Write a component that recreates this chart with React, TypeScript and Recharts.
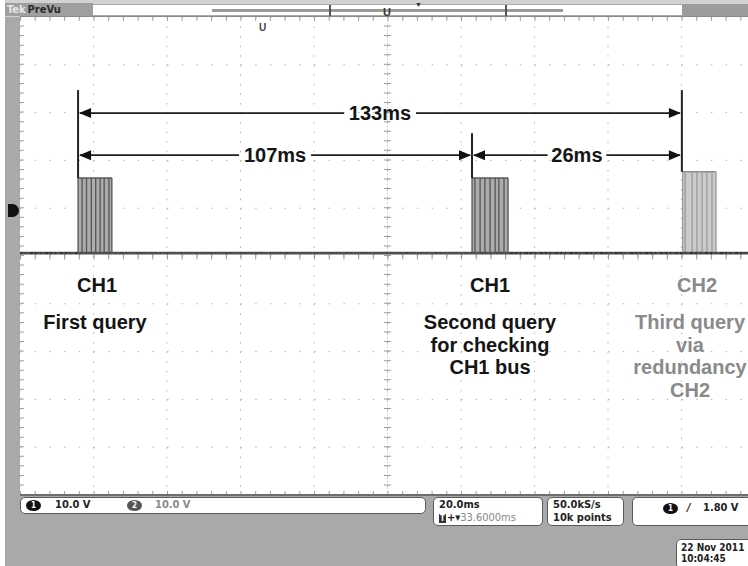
import React from "react";
import {
  ComposedChart,
  Line,
  Area,
  XAxis,
  YAxis,
  CartesianGrid,
  ReferenceLine,
} from "recharts";

// ── Scope capture: 20 ms/div x 10 div, 10 V/div x 10 div ─────────────
//
// The screen grid is drawn by Recharts (time in ms on x, volts on y).
// Bursts are drawn as stripe traces (each stripe = up/down edge) on top
// of a filled envelope, the way the DPO smears a dense CAN frame.

const timeTicks = [0, 20, 40, 60, 80, 100, 120, 140, 160, 180, 200];
const voltTicks = [-50, -40, -30, -20, -10, 0, 10, 20, 30, 40, 50];

const groundLevel = 0.6; // V, trace sits just above the centre line

// stripe positions (ms)
const burst1Stripes = [15.8, 16.9, 18.1, 19.4, 20.6, 21.8, 22.9, 24.2, 25.0];
const burst2Stripes = [123.0, 123.8, 125.2, 126.5, 127.9, 129.3, 130.3, 131.7, 132.8];
const burst3Stripes = [180.3, 181.0, 182.9, 184.2, 185.6, 186.9, 188.3, 189.4];
const burstHigh = [16.3, 16.3, 17.6]; // V

// query markers (ms) and the top of each marker line (V)
const queryTimes = [15.8, 123.0, 180.1];
const markerTops = [34.7, 25.7, 34.7];

// measurement arrows: [from marker, to marker], level in V
const arrowLabels = ["133ms", "107ms", "26ms"];
const arrowFrom = [0, 0, 1];
const arrowTo = [2, 1, 2];
const arrowLevel = [29.9, 21.1, 21.1];

// text under the bursts
const channelTags = ["CH1", "CH1", "CH2"];
const queryNotes = [
  ["First query"],
  ["Second query", "for checking", "CH1 bus"],
  ["Third query", "via", "redundancy", "CH2"],
];

const PLOT = { left: 20, top: 17, width: 735, height: 478 };
const SANS = "'Liberation Sans', Arial, sans-serif";
const STATUS = "'Liberation Sans Narrow', 'DejaVu Sans Condensed', 'Liberation Sans', sans-serif";

type Pt = { t: number; v: number };

function stripeTrace(stripes: number[], high: number): Pt[] {
  const out: Pt[] = [];
  for (const t of stripes) {
    out.push({ t, v: groundLevel }, { t, v: high }, { t, v: groundLevel });
  }
  return out;
}

function envelope(stripes: number[], high: number): Pt[] {
  return [
    { t: stripes[0], v: high },
    { t: stripes[stripes.length - 1], v: high },
  ];
}

const groundTrace: Pt[] = [
  { t: timeTicks[0], v: groundLevel },
  { t: timeTicks[timeTicks.length - 1], v: groundLevel },
];
const ch1Stripes = [
  ...stripeTrace(burst1Stripes, burstHigh[0]),
  ...stripeTrace(burst2Stripes, burstHigh[1]),
];
const ch2Stripes = stripeTrace(burst3Stripes, burstHigh[2]);

// arrow with heads at both ends and the label cut into the line
function makeArrow(label: string) {
  return (p: any) => {
    const x1 = Math.min(p.x1, p.x2);
    const x2 = Math.max(p.x1, p.x2);
    const y = p.y1;
    const mid = (x1 + x2) / 2;
    const gap = label.length * 6.6 + 3;
    const head = 12;
    const hw = 5;
    return (
      <g>
        <line x1={x1 + 2} y1={y} x2={mid - gap} y2={y} stroke="#1e1e1e" strokeWidth={1.8} />
        <line x1={mid + gap} y1={y} x2={x2 - 2} y2={y} stroke="#1e1e1e" strokeWidth={1.8} />
        <polygon points={`${x1 + 1},${y} ${x1 + 1 + head},${y - hw} ${x1 + 1 + head},${y + hw}`} fill="#111" />
        <polygon points={`${x2 - 1},${y} ${x2 - 1 - head},${y - hw} ${x2 - 1 - head},${y + hw}`} fill="#111" />
        <text
          x={mid}
          y={y}
          dy="0.36em"
          textAnchor="middle"
          fontFamily={SANS}
          fontWeight="bold"
          fontSize={20}
          fill="#151515"
        >
          {label}
        </text>
      </g>
    );
  };
}

function Screen() {
  return (
    <ComposedChart
      width={PLOT.width}
      height={PLOT.height}
      margin={{ top: 0, right: 0, bottom: 0, left: 0 }}
    >
      <XAxis type="number" dataKey="t" domain={[0, 200]} ticks={timeTicks} hide allowDuplicatedCategory={false} />
      <YAxis type="number" dataKey="v" domain={[-50, 50]} ticks={voltTicks} hide />

      <CartesianGrid horizontal vertical={false} stroke="#b3b3b3" strokeDasharray="1.5 13.2" />
      <CartesianGrid horizontal={false} vertical stroke="#b3b3b3" strokeDasharray="1.5 8.06" />

      {/* centre cross with minor ticks, and minor ticks along the border */}
      <ReferenceLine x={100} stroke="#b8b8b8" strokeDasharray="1 2.2" />
      <ReferenceLine x={100} stroke="#9a9a9a" strokeWidth={7} strokeDasharray="1 8.56" />
      <ReferenceLine y={0} stroke="#9a9a9a" strokeWidth={7} strokeDasharray="1 13.7" />
      <ReferenceLine x={0} stroke="#a0a0a0" strokeWidth={8} strokeDasharray="1 8.56" />
      <ReferenceLine y={50} stroke="#a0a0a0" strokeWidth={8} strokeDasharray="1 13.7" />
      <ReferenceLine y={-50} stroke="#a0a0a0" strokeWidth={8} strokeDasharray="1 13.7" />

      {/* burst envelopes */}
      <Area
        data={envelope(burst1Stripes, burstHigh[0])}
        dataKey="v"
        type="linear"
        baseValue={groundLevel}
        fill="#acacac"
        fillOpacity={1}
        stroke="#5a5a5a"
        strokeWidth={1.5}
        isAnimationActive={false}
      />
      <Area
        data={envelope(burst2Stripes, burstHigh[1])}
        dataKey="v"
        type="linear"
        baseValue={groundLevel}
        fill="#acacac"
        fillOpacity={1}
        stroke="#5a5a5a"
        strokeWidth={1.5}
        isAnimationActive={false}
      />
      <Area
        data={envelope(burst3Stripes, burstHigh[2])}
        dataKey="v"
        type="linear"
        baseValue={groundLevel}
        fill="#cbcbcb"
        fillOpacity={1}
        stroke="#8e8e8e"
        strokeWidth={1.5}
        isAnimationActive={false}
      />

      {/* CH2 stripes, then CH1 ground + stripes on top */}
      <Line data={ch2Stripes} dataKey="v" type="linear" stroke="#9b9b9b" strokeWidth={1.3} dot={false} isAnimationActive={false} />
      <Line data={groundTrace} dataKey="v" type="linear" stroke="#4e4e4e" strokeWidth={2.8} dot={false} isAnimationActive={false} />
      <Line data={groundTrace} dataKey="v" type="linear" stroke="#222" strokeWidth={1.2} strokeDasharray="2 3 1 4 3 2" dot={false} isAnimationActive={false} />
      <Line data={ch1Stripes} dataKey="v" type="linear" stroke="#555" strokeWidth={1.3} dot={false} isAnimationActive={false} />

      {/* query markers */}
      {queryTimes.map((t, i) => (
        <ReferenceLine
          key={"m" + i}
          segment={[
            { x: t, y: markerTops[i] },
            { x: t, y: burstHigh[i] },
          ]}
          stroke="#222"
          strokeWidth={2}
          ifOverflow="visible"
        />
      ))}

      {/* measurement arrows */}
      {arrowLabels.map((label, i) => (
        <ReferenceLine
          key={"a" + i}
          segment={[
            { x: queryTimes[arrowFrom[i]], y: arrowLevel[i] },
            { x: queryTimes[arrowTo[i]], y: arrowLevel[i] },
          ]}
          ifOverflow="visible"
          shape={makeArrow(label)}
        />
      ))}
    </ComposedChart>
  );
}

const abs = (s: React.CSSProperties): React.CSSProperties => ({ position: "absolute", ...s });

function StatusBox({ left, top, width, height, fontSize = 11, children }: any) {
  return (
    <div
      style={abs({
        left,
        top,
        width,
        height,
        background: "#fff",
        border: "1.5px solid #5a5a5a",
        borderRadius: 5,
        boxSizing: "border-box",
        fontFamily: STATUS,
        fontSize,
        fontWeight: 700,
        color: "#222",
        lineHeight: "12px",
        overflow: "hidden",
      })}
    >
      {children}
    </div>
  );
}

function ChanBadge({ left, top, n, bg }: { left: number; top: number; n: string; bg: string }) {
  return (
    <div
      style={abs({
        left,
        top,
        width: 15,
        height: 11,
        borderRadius: "50%",
        background: bg,
        color: "#fff",
        fontSize: 8,
        lineHeight: "11px",
        textAlign: "center",
        fontFamily: STATUS,
      })}
    >
      {n}
    </div>
  );
}

export default function App() {
  const noteCx = [95, 490, 690];
  const noteStyle = (i: number): React.CSSProperties => ({
    transform: "translate(-50%, -50%)",
    fontFamily: SANS,
    fontWeight: 700,
    fontSize: 20,
    color: i === 2 ? "#8a8a8a" : "#151515",
    whiteSpace: "nowrap",
  });
  return (
    <div
      style={abs({
        left: 0,
        top: 0,
        width: 748,
        height: 566,
        overflow: "hidden",
        background: "#fff",
      })}
    >
      {/* bezel */}
      <div style={abs({ left: 5, top: 0, width: 743, height: 566, background: "#a9a9a9" })} />
      <div style={abs({ left: 5, top: 0, width: 743, height: 17, background: "#d2d2d2" })} />

      {/* top record bar */}
      <div style={abs({ left: 5, top: 3, width: 88, height: 13, background: "#9f9f9f", fontFamily: STATUS, fontSize: 11, fontWeight: 700, lineHeight: "13px" })}>
        <span style={{ color: "#e8e8e8", marginLeft: 2 }}>Tek</span>
        <span style={{ color: "#2a2a2a", marginLeft: 2 }}>PreVu</span>
      </div>
      <div style={abs({ left: 93, top: 4, width: 589, height: 12, background: "#fff", borderTop: "1px solid #aaa", borderBottom: "1px solid #aaa", boxSizing: "border-box" })} />
      <div style={abs({ left: 212, top: 9, width: 351, height: 3, background: "#9a9a9a" })} />
      <div style={abs({ left: 329, top: 5, width: 2, height: 11, background: "#555" })} />
      <div style={abs({ left: 505, top: 5, width: 2, height: 11, background: "#555" })} />
      <div style={abs({ left: 415, top: 1, fontSize: 7, color: "#333", fontFamily: SANS })}>▼</div>
      <div style={abs({ left: 682, top: 4, width: 66, height: 12, background: "#9c9c9c" })} />

      {/* graticule */}
      <div style={abs({ left: PLOT.left, top: PLOT.top, width: PLOT.width, height: PLOT.height, background: "#fff" })}>
        <Screen />
      </div>
      <div style={abs({ left: 20, top: 16, width: 728, height: 1, background: "#8a8a8a" })} />
      <div style={abs({ left: 20, top: 494, width: 728, height: 2, background: "#6e6e6e" })} />

      {/* trigger markers */}
      <div style={abs({ left: 383, top: 6, fontFamily: SANS, fontWeight: 900, fontSize: 11, color: "#333" })}>U</div>
      <div style={abs({ left: 259, top: 22, fontFamily: SANS, fontWeight: 900, fontSize: 10, color: "#444" })}>U</div>

      {/* ch1 ground marker */}
      <div style={abs({ left: 8, top: 204, width: 11, height: 13, background: "#111", borderRadius: "0 7px 7px 0" })} />

      {/* query annotations */}
      {channelTags.map((tag, i) => (
        <div key={"tag" + i} style={abs({ left: [97, 490, 697][i], top: 285, ...noteStyle(i) })}>
          {tag}
        </div>
      ))}
      {queryNotes.map((lines, i) =>
        lines.map((line, j) => (
          <div key={"n" + i + "-" + j} style={abs({ left: noteCx[i], top: 322 + j * 22.6, ...noteStyle(i) })}>
            {line}
          </div>
        ))
      )}

      {/* status read-outs */}
      <StatusBox left={20} top={497} width={406} height={17}>
        <ChanBadge left={5} top={1.5} n="1" bg="#111" />
        <div style={abs({ left: 34, top: 1 })}>10.0 V</div>
        <ChanBadge left={106} top={1.5} n="2" bg="#555" />
        <div style={abs({ left: 134, top: 1, color: "#8a8a8a" })}>10.0 V</div>
      </StatusBox>
      <StatusBox left={433} top={497} width={110} height={29}>
        <div style={abs({ left: 5, top: 1 })}>20.0ms</div>
        <div style={abs({ left: 5, top: 14 })}>
          <span style={{ display: "inline-block", background: "#333", color: "#fff", fontSize: 8, lineHeight: "9px", padding: "0 1px", marginRight: 1 }}>T</span>
          +▾<span style={{ color: "#888", fontWeight: 400 }}>33.6000ms</span>
        </div>
      </StatusBox>
      <StatusBox left={547} top={497} width={77} height={29}>
        <div style={abs({ left: 5, top: 1 })}>50.0kS/s</div>
        <div style={abs({ left: 5, top: 14 })}>10k points</div>
      </StatusBox>
      <StatusBox left={632} top={497} width={130} height={29}>
        <ChanBadge left={30} top={5} n="1" bg="#111" />
        <div style={abs({ left: 54, top: 4, fontStyle: "italic" })}>/</div>
        <div style={abs({ left: 70, top: 4 })}>1.80 V</div>
      </StatusBox>
      <StatusBox left={676} top={539} width={90} height={30} fontSize={10}>
        <div style={abs({ left: 4, top: 2 })}>22 Nov 2011</div>
        <div style={abs({ left: 4, top: 13 })}>10:04:45</div>
      </StatusBox>
    </div>
  );
}
